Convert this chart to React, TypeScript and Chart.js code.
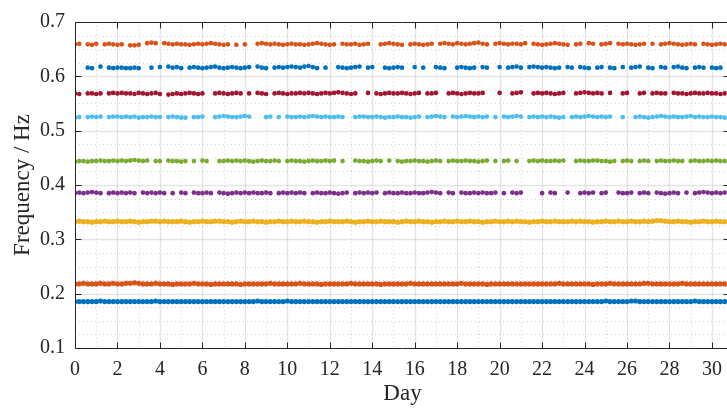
import { useEffect, useRef } from 'react';
import { Chart, registerables } from 'chart.js';

Chart.register(...registerables);

const _ = null;

// sampling interval of the readings (days)
const STEP_DAYS = 0.2;

const xTickValues = [0, 2, 4, 6, 8, 10, 12, 14, 16, 18, 20, 22, 24, 26, 28, 30];
const yTickValues = [0.1, 0.2, 0.3, 0.4, 0.5, 0.6, 0.7];

const seriesColors = ['#0072BD', '#D95319', '#EDB120', '#7E2F8E', '#77AC30', '#4DBEEE', '#A2142F', '#0072BD', '#D95319'];

// mean frequency of each mode (Hz)
const baseFreq = [0.1855, 0.218, 0.3325, 0.385, 0.444, 0.525, 0.5685, 0.616, 0.659];

// deviations from the mean, in mHz, one value per STEP_DAYS; null = no identification
const mode1 = [
  0, 0, 0, 0, 0, 0, 1, 0, 0, 0,
  0, 0, 0, 0, 0, 0, 0, 0, 0, 1,
  0, 0, 0, 0, 0, 0, 0, 0, 0, 0,
  0, 0, 0, 0, 0, 0, 0, 0, 0, 0,
  0, 0, 0, 1, 0, 0, 0, 0, 0, 0,
  1, 0, 0, 0, 0, 0, 0, 0, 0, 0,
  0, 0, 0, 0, 0, 0, 0, 0, 0, 0,
  0, 0, 0, 0, 0, 0, 0, 0, 0, 0,
  0, 0, 0, 0, 0, 0, 0, 0, 0, 0,
  0, 0, 0, 0, 0, 0, 0, 0, 0, 0,
  0, 0, 0, 0, 0, 0, 0, 0, 0, 0,
  0, 0, 0, 0, 0, 0, 0, 0, 0, 0,
  0, 0, 0, 0, 0, 1, 0, 0, 0, 0,
  0, 1, 1, 0, 0, 0, 0, 0, 0, 0,
  0, 0, 0, 0, 0, 0, 1, 0, 0, 0,
  0, 0, 0, 0,
];
const mode2 = [
  0, 0, 1, 0, 0, 0, 1, 0, 0, 1,
  0, 0, 1, 1, 2, 1, 0, 0, 0, 1,
  0, 0, 0, -1, 0, 0, 0, 0, 1, 0,
  0, 0, -1, 0, 0, 0, 0, 0, 0, -1,
  0, 0, 0, 0, 0, 0, 1, 0, 0, 0,
  0, 0, 0, 1, 0, 0, 0, 0, -1, 0,
  0, 0, 0, 0, 0, 1, 0, 0, 0, 0,
  0, 0, -1, 0, 0, 0, 0, 0, 0, 1,
  0, 0, 0, 0, 0, 0, 0, 0, 0, 0,
  0, 1, 0, 0, 0, 0, 0, -1, 0, 0,
  0, 0, 0, 0, 0, 0, 0, 0, 0, 0,
  0, 0, 0, 0, 1, 0, 0, 0, 0, 0,
  0, 0, -1, 0, 0, 0, 1, 0, 0, 0,
  0, 0, 0, 0, 1, 1, 0, 0, 0, 0,
  0, 0, 0, 1, 0, 0, 0, 0, 0, 0,
  0, 0, 0, 0,
];
const mode3 = [
  0, 1, 0, 0, -1, 0, 0, 1, 0, 0,
  1, 0, 0, 1, 0, -1, 0, 0, 1, 1,
  0, 1, 0, 0, 0, 1, 0, -1, 0, 0,
  1, 0, 0, 1, 1, 0, 0, -1, 0, 1,
  0, 0, 1, 0, 0, -1, 0, 0, 1, 0,
  0, 1, 0, 0, 1, 0, 0, -1, 0, 0,
  1, 0, 0, 0, 1, 0, -1, 0, 0, 1,
  0, 0, 1, 0, 0, 0, -1, 0, 1, 0,
  0, 1, 0, 0, -1, 0, 0, 1, 0, 0,
  1, 0, 0, 1, 0, 0, -1, 0, 0, 1,
  0, 0, 1, 0, 1, 0, 0, -1, 0, 0,
  1, 0, 0, 1, 0, 0, 0, 1, 0, 1,
  0, 0, -1, 0, 0, 1, 0, 0, 1, 0,
  0, 1, 0, 0, 1, 0, 1, 2, 2, 1,
  0, 0, 1, 0, 0, -1, 0, 0, 1, 0,
  0, 1, 0, 0,
];
const mode4 = [
  0, 1, 0, 1, 2, 1, 0, _, 0, 1,
  0, 1, 0, 1, 0, _, 1, 0, 1, 0,
  1, 0, _, 0, _, 1, 0, _, 1, 0,
  0, 1, 0, _, 1, 0, -1, 0, 1, 0,
  1, 0, 1, 0, 0, 1, 0, _, 0, 1,
  0, 1, 0, 1, 0, _, 0, 1, 0, 0,
  1, 0, -1, 0, 1, _, 0, 1, 0, 1,
  0, 1, _, 0, 1, 0, 0, 1, 0, 0,
  1, 0, 0, 1, 2, 1, 0, _, 1, 0,
  _, 1, 0, 0, 1, 0, 1, 0, 0, 1,
  _, 0, _, 1, 0, 1, _, _, _, _,
  0, _, 1, 0, _, _, 1, _, _, 0,
  1, 0, 1, _, 0, 1, _, _, 1, 0,
  0, 1, _, 0, 1, 0, _, 1, 0, -1,
  0, 1, 0, _, 1, _, 0, 1, 2, 1,
  0, 1, 0, 1,
];
const mode5 = [
  -1, 0, 0, -1, 0, 0, 1, 0, 0, 1,
  0, 1, 0, 1, 2, 1, 0, 1, _, 0,
  0, _, 1, 0, 0, -1, 0, _, 0, _,
  1, 0, _, _, 0, 0, 1, 0, 1, 0,
  1, 0, -1, 0, 1, 0, 0, 1, 0, _,
  0, 1, 0, 0, -1, 0, 1, 0, 0, 1,
  0, 1, _, 0, _, _, 1, 0, 0, -1,
  0, 1, 0, _, 1, _, 0, -1, 0, 0,
  1, 0, 0, -1, 0, 1, 0, _, 0, 1,
  0, 0, 1, 0, 0, -1, 0, 1, _, 0,
  _, 0, 1, _, 0, _, _, 0, 1, 0,
  1, 0, 0, 1, 0, 1, _, _, 0, 1,
  0, 0, 1, 1, 0, 0, -1, 0, _, 0,
  1, 0, _, 0, 1, 0, _, 0, 1, 0,
  0, 1, 0, 0, _, 0, 1, 0, 0, 1,
  0, 1, 0, 0,
];
const mode6 = [
  -1, 0, _, 0, 1, 0, 1, _, 0, 1,
  1, 0, 1, 0, 1, -1, 0, 0, 1, 0,
  0, _, 0, 1, 0, -1, -1, _, 0, 0,
  1, _, _, 0, 1, 2, 1, 0, 0, 1,
  2, 1, _, _, _, 0, 1, _, 0, _,
  1, 0, 0, 1, 0, 1, 2, 1, 0, 1,
  0, 0, 1, 0, _, _, 0, 1, 1, 0,
  0, 1, 0, -1, 0, 0, 1, 0, 0, -1,
  0, 1, _, 0, 1, 2, 1, 0, _, 1,
  0, 1, 2, 1, 0, 1, 0, 1, _, 0,
  _, 1, 0, 1, 2, 1, _, 0, 1, 0,
  1, 0, 1, 0, -1, 0, _, 0, 1, 0,
  1, 2, 1, 0, 1, 0, 1, _, _, 0,
  _, _, 0, 1, 0, -1, 0, 1, 2, 1,
  0, 1, 0, 0, 1, 2, 0, 1, 0, 0,
  1, 0, 0, -1,
];
const mode7 = [
  0, -1, _, 0, 0, -1, 0, _, 0, 1,
  0, 1, 0, 0, -1, 1, 0, -1, 0, 1,
  -1, _, -2, -1, 0, -1, 0, 1, 0, -1,
  0, _, _, 0, 1, 0, -1, 0, 1, 0,
  _, 0, _, 1, 0, -1, _, 0, 1, 0,
  -1, 0, 0, 1, 0, 1, 0, -1, 0, 1,
  0, 1, 2, 1, 0, -1, 0, _, _, 1,
  _, 0, -1, 0, 1, 0, 0, 1, 0, -1,
  0, 1, _, 0, 0, 1, _, _, 0, 1,
  0, -1, 0, 1, 0, 0, 1, _, _, _,
  1, _, _, 0, 1, 2, _, _, 0, 1,
  0, 1, 0, -1, 0, 1, _, _, 0, 1,
  2, 1, 0, 1, 0, _, 1, _, _, 0,
  1, _, _, 0, 1, _, 0, 1, 0, 0,
  _, 1, 0, 0, -1, 0, 1, 0, 0, 1,
  0, 0, -1, 0,
];
const mode8 = [
  _, _, _, 0, -1, _, 2, _, 0, -1,
  0, 0, -1, -1, 0, -1, _, _, 0, _,
  1, _, 2, 0, 1, -1, _, 0, 1, 0,
  -1, 0, 1, 2, 0, -1, 0, 1, 0, -1,
  0, 1, _, 2, 0, -1, _, 0, 1, 0,
  1, 2, 1, 0, 2, 3, 1, -1, _, 0,
  _, _, 1, 0, -1, 0, 1, 2, _, 0,
  1, _, _, 0, -1, 0, 1, 0, _, _,
  1, _, 0, _, _, 1, 0, -1, _, _,
  0, 1, 0, -1, 0, _, 1, 0, _, _,
  1, _, 0, 1, 2, 0, _, 1, 2, 1,
  0, 1, 0, -1, 0, _, 1, 0, _, 1,
  0, -1, _, 0, 1, _, 0, -1, _, 1,
  _, 0, 1, 2, _, 0, -1, _, 1, 0,
  _, 1, 2, 0, -1, _, 0, 1, 0, _,
  0, -1, 0, _,
];
const mode9 = [
  0, 1, _, 0, -1, 1, _, 0, 1, 0,
  -1, 0, _, -2, -2, -1, _, 2, 3, 2,
  _, 2, 1, 0, 1, 0, 0, -1, 0, 1,
  0, 1, 2, 1, 0, -1, 0, _, -1, _,
  0, _, _, 1, 2, 1, 0, 1, 0, -1,
  0, 1, 0, 0, -1, 0, 1, 2, 1, 0,
  -1, 0, _, 1, 0, 0, 1, -1, 0, 1,
  _, _, 0, 1, 2, 1, 0, -1, _, 0,
  1, 0, -1, 0, 1, _, 1, 2, 1, 0,
  2, 1, 0, 1, 2, 3, 1, 0, _, 1,
  2, 1, 0, 1, 1, 0, 2, _, 1, 0,
  -1, 0, 1, 2, 1, 0, -1, _, 0, 1,
  _, 2, 1, _, 0, 1, 2, _, 1, 0,
  1, 0, -1, 0, 1, _, 1, _, 0, 1,
  2, 1, 0, -1, 0, 1, 0, _, 1, 0,
  -1, 0, 1, 0,
];

const modeDeviations = [mode1, mode2, mode3, mode4, mode5, mode6, mode7, mode8, mode9];

const FONT = "'Liberation Serif', 'Times New Roman', serif";
const INK = '#262626';

const framePlugin = {
  id: 'matlabFrame',
  beforeDatasetsDraw(chart: any) {
    const { ctx, chartArea: a, scales } = chart;
    const x = scales.x;
    const y = scales.y;
    ctx.save();
    // minor grid (dotted)
    ctx.strokeStyle = 'rgba(38,38,38,0.2)';
    ctx.lineWidth = 1;
    ctx.setLineDash([1, 3]);
    for (let d = 1; d < 31; d += 2) {
      const px = Math.round(x.getPixelForValue(d)) + 0.5;
      ctx.beginPath(); ctx.moveTo(px, a.top); ctx.lineTo(px, a.bottom); ctx.stroke();
    }
    for (let k = 5; k < 28; k++) {
      if (k % 4 === 0) continue;
      const py = Math.round(y.getPixelForValue(k * 0.025)) + 0.5;
      ctx.beginPath(); ctx.moveTo(a.left, py); ctx.lineTo(a.right, py); ctx.stroke();
    }
    // major grid
    ctx.setLineDash([]);
    ctx.strokeStyle = 'rgba(38,38,38,0.12)';
    ctx.lineWidth = 1.3;
    xTickValues.forEach((d) => {
      if (d === 0) return;
      const px = Math.round(x.getPixelForValue(d)) + 0.5;
      ctx.beginPath(); ctx.moveTo(px, a.top); ctx.lineTo(px, a.bottom); ctx.stroke();
    });
    yTickValues.forEach((v) => {
      if (v <= 0.1 || v >= 0.7) return;
      const py = Math.round(y.getPixelForValue(v)) + 0.5;
      ctx.beginPath(); ctx.moveTo(a.left, py); ctx.lineTo(a.right, py); ctx.stroke();
    });
    ctx.restore();
  },
  afterDatasetsDraw(chart: any) {
    const { ctx, chartArea: a, scales } = chart;
    const x = scales.x;
    const y = scales.y;
    const L = Math.round(a.left) + 0.5;
    const R = Math.round(a.right) - 0.5;
    const T = Math.round(a.top) + 0.5;
    const B = Math.round(a.bottom) + 0.5;
    const tl = 6;
    ctx.save();
    ctx.strokeStyle = INK;
    ctx.lineWidth = 1;
    ctx.beginPath();
    ctx.moveTo(L, T); ctx.lineTo(R, T); ctx.lineTo(R, B); ctx.lineTo(L, B); ctx.closePath();
    ctx.stroke();
    xTickValues.forEach((d) => {
      const px = Math.round(x.getPixelForValue(d)) + 0.5;
      ctx.beginPath(); ctx.moveTo(px, B); ctx.lineTo(px, B - tl); ctx.stroke();
      ctx.beginPath(); ctx.moveTo(px, T); ctx.lineTo(px, T + tl); ctx.stroke();
    });
    yTickValues.forEach((v) => {
      const py = Math.round(y.getPixelForValue(v)) + 0.5;
      ctx.beginPath(); ctx.moveTo(L, py); ctx.lineTo(L + tl, py); ctx.stroke();
      ctx.beginPath(); ctx.moveTo(R, py); ctx.lineTo(R - tl, py); ctx.stroke();
    });
    ctx.restore();
  },
};

export default function App() {
  const ref = useRef<HTMLCanvasElement | null>(null);

  useEffect(() => {
    if (!ref.current) return;
    const datasets = modeDeviations.map((dev, m) => ({
      label: `Mode ${m + 1}`,
      data: dev.flatMap((d, i) => (d === null ? [] : [{ x: i * STEP_DAYS, y: baseFreq[m] + d / 1000 }])),
      backgroundColor: seriesColors[m],
      borderWidth: 0,
      pointRadius: m < 3 ? 2.6 : 2.35,
      pointHoverRadius: 0,
      showLine: false,
    }));
    const chart = new Chart(ref.current, {
      type: 'scatter',
      data: { datasets },
      options: {
        animation: false,
        responsive: false,
        events: [],
        layout: { padding: { top: 18, right: 10, bottom: 0, left: 0 } },
        plugins: { legend: { display: false }, tooltip: { enabled: false } },
        scales: {
          x: {
            type: 'linear',
            min: 0,
            max: 30.85,
            grid: { display: false, drawTicks: false },
            border: { display: false },
            afterBuildTicks: (s: any) => { s.ticks = xTickValues.map((v) => ({ value: v })); },
            afterFit: (s: any) => { s.height = 62; },
            ticks: {
              autoSkip: false,
              maxRotation: 0,
              padding: 10,
              color: INK,
              font: { family: FONT, size: 20 },
              callback: (v: any) => String(v),
            },
            title: {
              display: true,
              text: 'Day',
              color: INK,
              font: { family: FONT, size: 23 },
              padding: { top: 0, bottom: 2 },
            },
          },
          y: {
            type: 'linear',
            min: 0.1,
            max: 0.7,
            grid: { display: false, drawTicks: false },
            border: { display: false },
            afterBuildTicks: (s: any) => { s.ticks = yTickValues.map((v) => ({ value: v })); },
            afterFit: (s: any) => { s.width = 75; },
            ticks: {
              padding: 10,
              color: INK,
              font: { family: FONT, size: 20 },
              callback: (v: any) => Number(v).toFixed(1),
            },
            title: {
              display: true,
              text: 'Frequency / Hz',
              color: INK,
              font: { family: FONT, size: 23 },
              padding: { top: 9, bottom: 0 },
            },
          },
        },
      },
      plugins: [framePlugin],
    });
    return () => chart.destroy();
  }, []);

  return (
    <div style={{ position: 'fixed', left: 0, top: 0, width: 727, height: 410, overflow: 'hidden', background: '#fff' }}>
      <canvas ref={ref} width={740} height={410} style={{ display: 'block' }} />
    </div>
  );
}
